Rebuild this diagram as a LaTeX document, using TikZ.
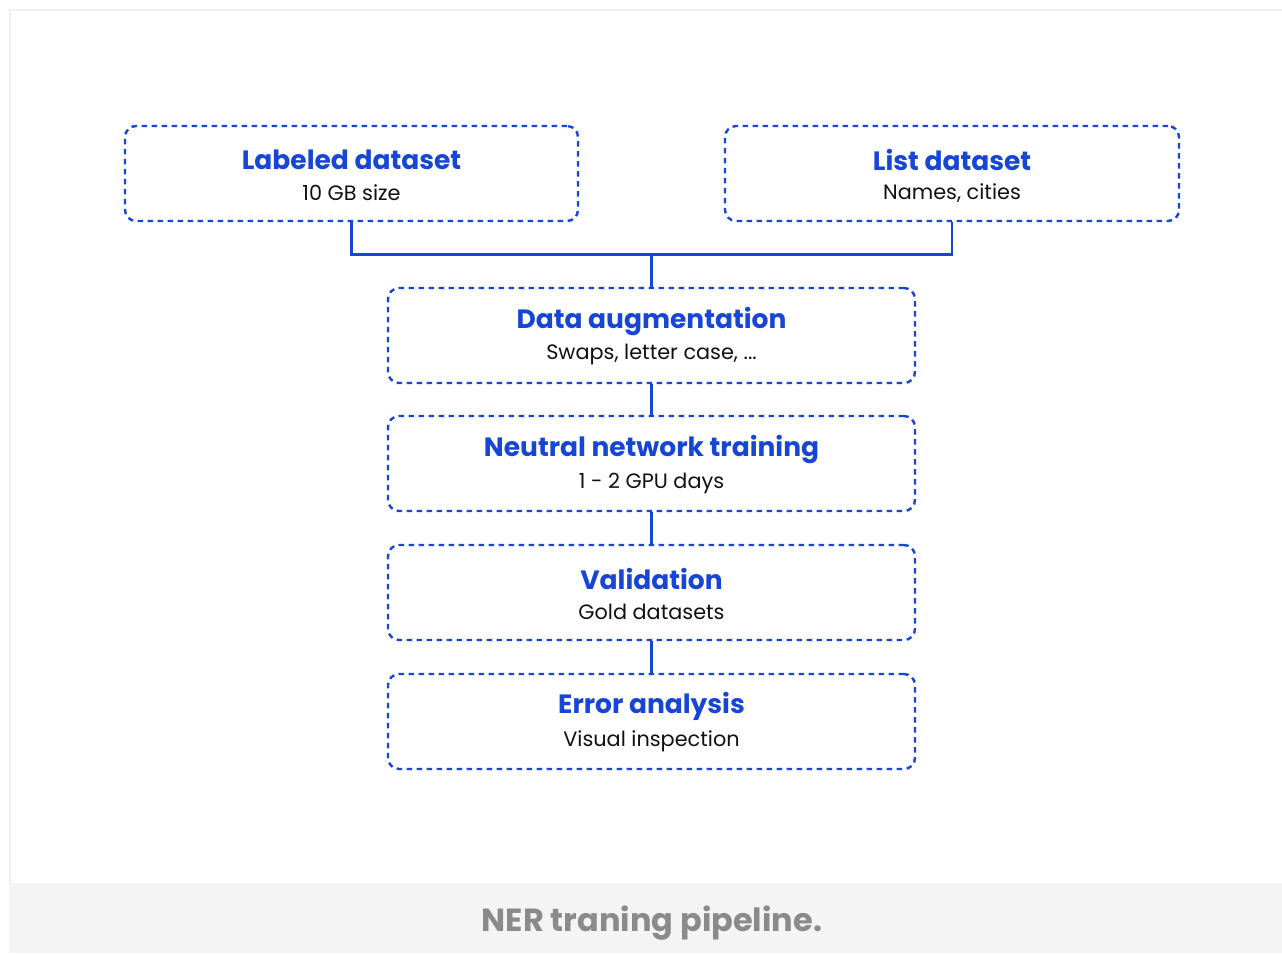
\documentclass[tikz,border=0pt]{standalone}
\usepackage{fontspec}
\setmainfont{Poppins}
\definecolor{stepblue}{HTML}{1745D6}
\definecolor{textdark}{HTML}{111111}
\definecolor{bandgray}{HTML}{F4F4F4}
\definecolor{framegray}{HTML}{F0F0F0}
\definecolor{captiongray}{HTML}{8A8A8A}
\tikzset{
  stepbox/.style={draw=stepblue, line width=2.4pt, dash pattern=on 5.5pt off 4.5pt,
    rounded corners=11pt, minimum height=95pt, inner sep=0pt},
  steptitle/.style={text=stepblue, font=\fontsize{26.5}{30}\selectfont\bfseries},
  stepsub/.style={text=textdark, font=\fontsize{20.8}{24}\selectfont},
  link/.style={draw=stepblue, line width=2.6pt},
}
\begin{document}
\begin{tikzpicture}[x=1pt, y=-1pt]
\useasboundingbox (0,0) rectangle (1282,953);
\fill[white] (0,0) rectangle (1282,953);
% outer frame and caption band
\draw[framegray, line width=2pt] (10,883) -- (10,10) -- (1282,10);
\fill[bandgray] (9,883) rectangle (1282,953);
\node[text=captiongray, font=\fontsize{32}{36}\selectfont\bfseries] (caption) at (652,923) {NER traning pipeline.};

% boxes
\node[stepbox, minimum width=453pt] (lab) at (351.5,173.5) {};
\node[stepbox, minimum width=454pt] (lst) at (952,173.5) {};
\node[stepbox, minimum width=527pt] (aug) at (651.5,335.5) {};
\node[stepbox, minimum width=527pt] (nnt) at (651.5,463.5) {};
\node[stepbox, minimum width=527pt] (val) at (651.5,592.5) {};
\node[stepbox, minimum width=527pt] (err) at (651.5,721.5) {};

% box texts
\node[steptitle] (labT) at (351.5,159.5) {Labeled dataset};
\node[stepsub] (labS) at (351.5,193) {10 GB size};
\node[steptitle] (lstT) at (952,159.5) {List dataset};
\node[stepsub] (lstS) at (952,193) {Names, cities};
\node[steptitle] (augT) at (651.5,321.5) {Data augmentation};
\node[stepsub] (augS) at (651.5,355) {Swaps, letter case, ...};
\node[steptitle] (nntT) at (651.5,449.5) {Neutral network training};
\node[stepsub] (nntS) at (651.5,483) {1 - 2 GPU days};
\node[steptitle] (valT) at (651.5,578.5) {Validation};
\node[stepsub] (valS) at (651.5,612) {Gold datasets};
\node[steptitle] (errT) at (651.5,706.5) {Error analysis};
\node[stepsub] (errS) at (651.5,741) {Visual inspection};

% connectors
\coordinate (joinL) at (lab.south |- 0,254.5);
\coordinate (joinR) at (lst.south |- 0,254.5);
\coordinate (joinM) at (aug.north |- 0,254.5);
\draw[link] (lab.south) -- (joinL) -- (joinR) -- (lst.south);
\draw[link] (joinM) -- (aug.north);
\draw[link] (aug.south) -- (nnt.north);
\draw[link] (nnt.south) -- (val.north);
\draw[link] (val.south) -- (err.north);
\end{tikzpicture}
\end{document}
